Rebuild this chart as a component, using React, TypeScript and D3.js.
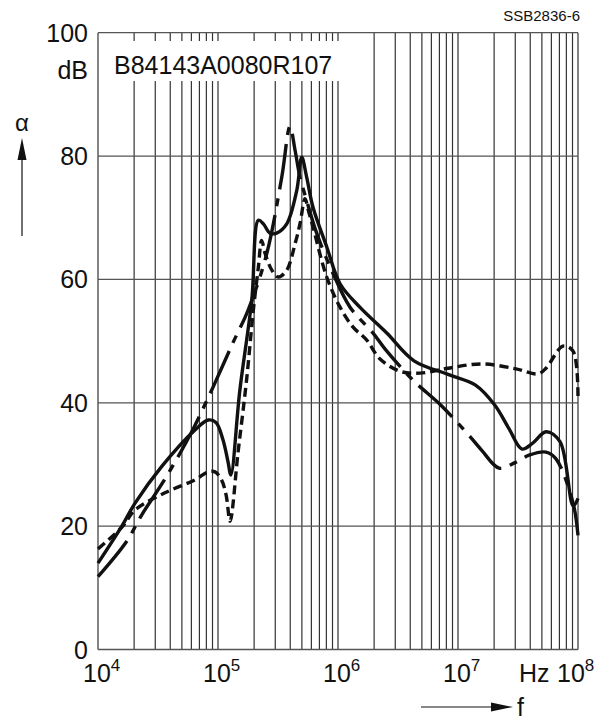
import React from "react";
import * as d3 from "d3";

// ---- data ----
const yTicks = [0, 20, 40, 60, 80, 100];
const decadeExps = [4, 5, 6, 7, 8];

const solidFreq = [1.0e4, 1.58e4, 2.03e4, 3.4e4, 6.43e4, 8.3e4, 9.62e4, 1.10e5, 1.21e5, 1.28e5, 1.52e5, 1.91e5, 2.17e5, 2.39e5, 2.71e5, 3.08e5, 3.74e5, 4.53e5, 4.99e5, 5.48e5, 6.19e5, 8.05e5, 1.04e6, 1.52e6, 2.55e6, 4.3e6, 8.26e6, 1.39e7, 2.03e7, 2.66e7, 3.41e7, 4.22e7, 5.41e7, 7.08e7, 9.12e7, 1.0e8];
const solidDb = [14.0, 20, 23.7, 29.7, 35.6, 37.2, 36.8, 34, 30.5, 28.3, 42, 56.6, 69.6, 69, 67.5, 67.5, 69, 74.4, 79.8, 76.6, 71.7, 65.3, 59.3, 55.5, 51.3, 46.8, 44.6, 42.9, 39.6, 35.8, 32.5, 33.5, 35.3, 33.7, 23.3, 24.5];

const shortFreq = [1.0e4, 1.61e4, 2.03e4, 3.61e4, 6.43e4, 8.26e4, 9.44e4, 1.07e5, 1.17e5, 1.26e5, 1.47e5, 1.73e5, 1.97e5, 2.17e5, 2.31e5, 2.47e5, 2.81e5, 3.18e5, 3.74e5, 4.39e5, 4.82e5, 5.31e5, 5.66e5, 6.19e5, 8.05e5, 1.04e6, 1.33e6, 1.73e6, 2.24e6, 3.29e6, 4.82e6, 8.26e6, 1.59e7, 3.04e7, 4.65e7, 5.41e7, 7.5e7, 9.08e7, 1.0e8];
const shortDb = [16.3, 20, 22.6, 25.4, 27.5, 28.8, 28.8, 27.5, 25, 20.8, 32, 43.7, 55, 62, 66.3, 64.2, 61.5, 60.4, 61.5, 65.8, 69, 73.1, 71.2, 68.5, 60.4, 55.5, 52.3, 50.2, 47.1, 45.1, 44.8, 45.6, 46.3, 45.5, 44.7, 45.6, 49.2, 48.4, 40.8];

const dashDotFreq = [1.0e4, 1.73e4, 2.31e4, 3.5e4, 4.82e4, 6.04e4, 7.31e4, 9.08e4, 1.33e5, 1.78e5, 2.55e5, 3.4e5, 3.98e5, 4.39e5, 4.82e5, 5.48e5, 6.64e5, 9.08e5, 1.26e6, 1.96e6, 2.47e6, 4.3e6, 7.21e6, 1.26e7, 1.59e7, 2.2e7, 2.99e7, 3.91e7, 5.41e7, 6.56e7, 9.08e7, 1.0e8];
const dashDotDb = [11.8, 17.5, 21.8, 27.2, 31.8, 35.3, 38.6, 42.5, 49.7, 55, 64.2, 76.6, 84.8, 80.9, 76.6, 72.8, 67.5, 61, 55.5, 51.3, 48.7, 43.5, 39.6, 34.5, 32.2, 29.4, 30.3, 31.5, 32, 30.9, 23.8, 18.5];

const partLabel = "B84143A0080R107";
const codeLabel = "SSB2836-6";

const FONT = "'Liberation Sans', Arial, Helvetica, sans-serif";

export default function App() {
  const W = 611, H = 720;
  const left = 98, right = 578, top = 32.7, bottom = 649.5;
  const x = d3.scaleLog().domain([1e4, 1e8]).range([left, right]);
  const y = d3.scaleLinear().domain([0, 100]).range([bottom, top]);

  const minor: number[] = [];
  for (let e = 4; e < 8; e++) for (let m = 1; m <= 9; m++) minor.push(m * Math.pow(10, e));
  minor.push(1e8);

  const line = d3
    .line<[number, number]>()
    .x((d) => x(d[0]))
    .y((d) => y(d[1]))
    .curve(d3.curveCatmullRom.alpha(0.5));

  const zip = (a: number[], b: number[]) => a.map((v, i) => [v, b[i]] as [number, number]);

  const labelBox = { x0: 108, x1: 344, y0: 41, y1: 81 };

  return (
    <svg
      width={W}
      height={H}
      style={{ position: "absolute", left: 0, top: 0, background: "#fff" }}
      fontFamily={FONT}
    >
      <rect x={0} y={0} width={W} height={H} fill="#fff" />
      {/* vertical grid */}
      {minor.map((f, i) => (
        <line key={"v" + i} x1={x(f)} x2={x(f)} y1={top} y2={bottom} stroke="#333" strokeWidth={1.2} />
      ))}
      {/* horizontal grid */}
      {yTicks.map((t) => (
        <line key={"h" + t} x1={left} x2={right} y1={y(t)} y2={y(t)} stroke="#555" strokeWidth={1.3} />
      ))}
      {/* label background */}
      <rect x={labelBox.x0} y={labelBox.y0} width={labelBox.x1 - labelBox.x0} height={labelBox.y1 - labelBox.y0} fill="#fff" />
      <text x={114} y={74} fontSize={25} fill="#111">{partLabel}</text>

      {/* curves */}
      <g fill="none" stroke="#111" strokeWidth={3.4} strokeLinejoin="round">
        <path d={line(zip(solidFreq, solidDb)) || ""} />
        <path d={line(zip(shortFreq, shortDb)) || ""} strokeDasharray="9,5" />
        <path d={line(zip(dashDotFreq, dashDotDb)) || ""} strokeDasharray="46,9,8,9" />
      </g>

      {/* y tick labels */}
      {yTicks.map((t) => (
        <text key={"yl" + t} x={88} y={y(t)} dy="0.36em" textAnchor="end" fontSize={25} fill="#111">
          {t}
        </text>
      ))}
      <text x={88} y={79} textAnchor="end" fontSize={25} fill="#111">dB</text>

      {/* alpha + arrow */}
      <text x={22} y={131} textAnchor="middle" fontSize={24} fill="#111">α</text>
      <line x1={22} x2={22} y1={236} y2={150} stroke="#111" strokeWidth={1.2} />
      <path d="M22,138 L17.5,160 L26.5,160 Z" fill="#111" />

      {/* x tick labels */}
      {decadeExps.map((e) => {
        const x0 = e === 8 ? x(1e8) - 21 : x(Math.pow(10, e)) - 15;
        return (
          <text key={"xl" + e} x={x0} y={682} fontSize={25} fill="#111">
            10<tspan dy={-11} fontSize={17}>{e}</tspan>
          </text>
        );
      })}
      <text x={519} y={682} fontSize={25} fill="#111">Hz</text>

      {/* f arrow */}
      <line x1={421} x2={500} y1={707} y2={707} stroke="#111" strokeWidth={1.2} />
      <path d="M513,707 L491,702.5 L491,711.5 Z" fill="#111" />
      <text x={517} y={716} fontSize={25} fill="#111">f</text>

      <text x={580} y={21} textAnchor="end" fontSize={15} fill="#111">{codeLabel}</text>
    </svg>
  );
}
